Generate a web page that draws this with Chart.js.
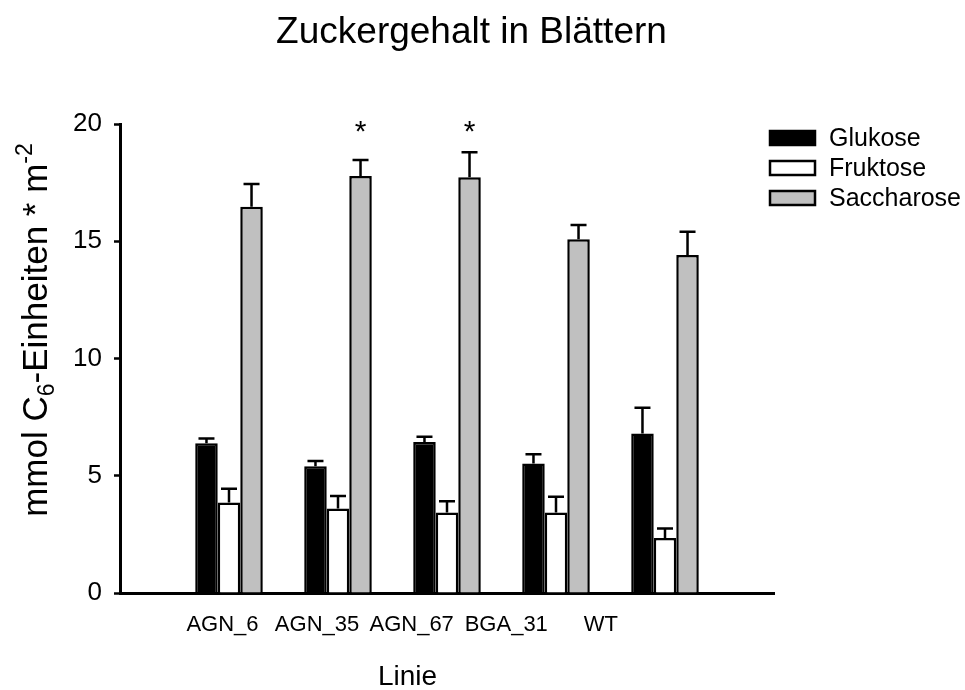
<!DOCTYPE html>
<html>
<head>
<meta charset="utf-8">
<script src="https://cdn.jsdelivr.net/npm/chart.js@4.4.0/dist/chart.umd.min.js"></script>
<style>
body { margin: 0; background: #fff; }
</style>
</head>
<body>
<canvas id="myChart" width="965" height="690"></canvas>
<script>
// Werte
const LINIEN = ['AGN_6', 'AGN_35', 'AGN_67', 'BGA_31', 'WT'];
const GLUKOSE = [6.39, 5.41, 6.44, 5.52, 6.80];
const GLUKOSE_ERR = [0.20, 0.22, 0.22, 0.40, 1.10];
const FRUKTOSE = [3.86, 3.60, 3.43, 3.43, 2.35];
const FRUKTOSE_ERR = [0.59, 0.54, 0.48, 0.67, 0.40];
const SACCHAROSE = [16.47, 17.78, 17.73, 15.09, 14.41];
const SACCHAROSE_ERR = [0.97, 0.68, 1.07, 0.60, 1.00];
const SIGNIFIKANT = ['', '*', '*', '', ''];
const STERN_HOEHE = 19.8;
const Y_TICKS = [0, 5, 10, 15, 20];

const FONT = "'Liberation Sans', Arial, sans-serif";
Chart.defaults.font.family = FONT;
Chart.defaults.color = '#000';

// leere Kategorie links und rechts, wie im Original
const pad = arr => [null, ...arr, null];

const fehlerbalken = {
    id: 'fehlerbalken',
    afterDatasetsDraw(chart) {
        const ctx = chart.ctx
        const y = chart.scales.y
        ctx.save()
        ctx.strokeStyle = '#000'
        ctx.lineWidth = 2.5
        chart.data.datasets.forEach((ds, i) => {
            chart.getDatasetMeta(i).data.forEach((bar, j) => {
                const v = ds.data[j]
                const e = ds.fehler[j]
                if (v == null || e == null) return
                const yTop = y.getPixelForValue(v + e)
                ctx.beginPath()
                ctx.moveTo(bar.x, bar.y)
                ctx.lineTo(bar.x, yTop)
                ctx.moveTo(bar.x - 8, yTop)
                ctx.lineTo(bar.x + 8, yTop)
                ctx.stroke()
            })
        })
        // Sternchen ueber Saccharose
        const sig = pad(SIGNIFIKANT)
        ctx.fillStyle = '#000'
        ctx.font = '30px ' + FONT
        ctx.textAlign = 'center'
        ctx.textBaseline = 'alphabetic'
        chart.getDatasetMeta(2).data.forEach((bar, j) => {
            if (sig[j] === '*') {
                ctx.fillText('*', bar.x, y.getPixelForValue(STERN_HOEHE) + 12)
            }
        })
        ctx.restore()
    },
    afterDraw(chart) {
        const ctx = chart.ctx
        ctx.save()
        ctx.fillStyle = '#000'
        // Titel
        ctx.font = '37px ' + FONT
        ctx.textAlign = 'center'
        ctx.textBaseline = 'alphabetic'
        ctx.fillText('Zuckergehalt in Blättern', 471.5, 43)
        // x-Achsentitel
        ctx.font = '28px ' + FONT
        ctx.fillText('Linie', 407.5, 685)
        // y-Achsentitel mit Index und Exponent
        const parts = [
            ['mmol C', 35, 0],
            ['6', 23, 7],
            ['-Einheiten * m', 35, 0],
            ['-2', 23, -15]
        ]
        let total = 0
        parts.forEach(p => { ctx.font = p[1] + 'px ' + FONT; total += ctx.measureText(p[0]).width })
        ctx.translate(47, 330)
        ctx.rotate(-Math.PI / 2)
        ctx.textAlign = 'left'
        let x = -total / 2
        parts.forEach(p => {
            ctx.font = p[1] + 'px ' + FONT
            ctx.fillText(p[0], x, p[2])
            x += ctx.measureText(p[0]).width
        })
        ctx.restore()
        // Legende
        ctx.save()
        ctx.font = '25px ' + FONT
        ctx.textBaseline = 'middle'
        ctx.textAlign = 'left'
        chart.data.datasets.forEach((ds, i) => {
            const cy = 138 + 30 * i
            ctx.fillStyle = ds.backgroundColor
            ctx.fillRect(770, cy - 7, 45, 14)
            ctx.strokeStyle = '#000'
            ctx.lineWidth = 2.5
            ctx.strokeRect(770, cy - 7, 45, 14)
            ctx.fillStyle = '#000'
            ctx.fillText(ds.label, 829, cy + 1)
        })
        ctx.restore()
    }
};

const data = {
    labels: pad(LINIEN).map(l => l || ''),
    datasets: [{
        label: 'Glukose',
        data: pad(GLUKOSE),
        fehler: pad(GLUKOSE_ERR),
        backgroundColor: '#000000'
    }, {
        label: 'Fruktose',
        data: pad(FRUKTOSE),
        fehler: pad(FRUKTOSE_ERR),
        backgroundColor: '#ffffff'
    }, {
        label: 'Saccharose',
        data: pad(SACCHAROSE),
        fehler: pad(SACCHAROSE_ERR),
        backgroundColor: '#c0c0c0'
    }]
};

const config = {
    type: 'bar',
    data: data,
    options: {
        responsive: false,
        animation: false,
        devicePixelRatio: 1,
        layout: {
            padding: { top: 124, right: 191, left: 0, bottom: 0 }
        },
        datasets: {
            bar: {
                borderColor: '#000',
                borderWidth: 2.5,
                borderSkipped: 'start',
                categoryPercentage: 0.62,
                barPercentage: 1.0
            }
        },
        plugins: {
            legend: { display: false },
            tooltip: { enabled: false },
            title: { display: false }
        },
        scales: {
            x: {
                type: 'category',
                offset: false,
                weight: 0,
                grid: { display: false, drawTicks: false, offset: false },
                border: { display: true, color: '#000', width: 3 },
                ticks: { display: false },
                afterFit: s => { s.height = 2 }
            },
            // Beschriftung der Linien, im Original nicht unter den Gruppen zentriert
            x2: {
                type: 'linear',
                position: 'bottom',
                offset: false,
                weight: 1,
                min: -1.083,
                max: 5.83,
                grid: { display: false, drawTicks: false, offset: false },
                border: { display: false },
                ticks: {
                    stepSize: 1,
                    autoSkip: false,
                    maxRotation: 0,
                    padding: 17,
                    font: { size: 22 },
                    color: '#000',
                    callback: v => LINIEN[v] ?? ''
                },
                afterFit: s => { s.height = 95 }
            },
            y: {
                min: 0,
                max: 20,
                grid: {
                    display: true,
                    drawOnChartArea: false,
                    drawTicks: true,
                    tickLength: 6,
                    tickWidth: 2.5,
                    color: '#000'
                },
                border: { display: true, color: '#000', width: 3 },
                ticks: {
                    padding: 12,
                    font: { size: 26 },
                    color: '#000'
                },
                afterBuildTicks: s => { s.ticks = Y_TICKS.map(v => ({ value: v })) },
                afterFit: s => { s.width = 120 }
            }
        }
    },
    plugins: [fehlerbalken]
};

const myChart = new Chart(document.getElementById('myChart'), config);
</script>
</body>
</html>
